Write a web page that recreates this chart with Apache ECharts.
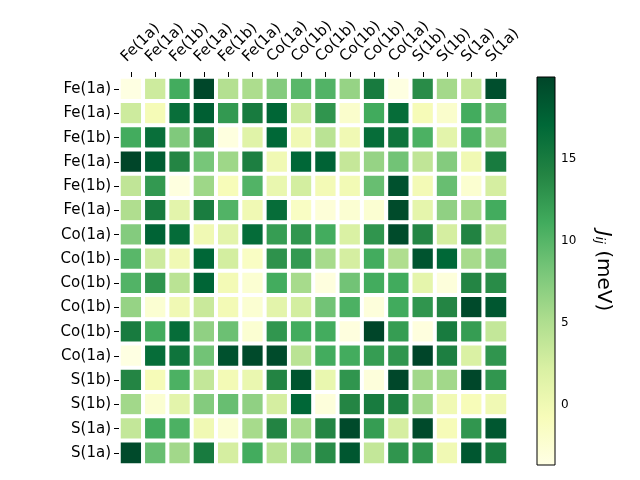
<!DOCTYPE html>
<html>
<head>
<meta charset="utf-8">
<script src="https://cdn.jsdelivr.net/npm/echarts@6/dist/echarts.min.js"></script>
<style>html,body{margin:0;padding:0;background:#fff;}#c{width:640px;height:480px;}</style>
</head>
<body>
<div id="c"></div>
<script>
var siteLabels = ['Fe(1a)','Fe(1a)','Fe(1b)','Fe(1a)','Fe(1b)','Fe(1a)','Co(1a)','Co(1b)','Co(1b)','Co(1b)','Co(1b)','Co(1a)','S(1b)','S(1b)','S(1a)','S(1a)'];
var jRows = [
  [-3.5, 3.0, 11.0, 19.8, 4.7, 5.2, 7.5, 9.8, 10.2, 6.5, 15.0, -3.4, 13.5, 5.7, 3.7, 19.2],
  [3.0, -0.5, 16.3, 17.8, 12.5, 15.0, 17.2, 3.0, 12.8, -2.0, 11.1, 16.5, -0.6, -2.0, 11.0, 9.0],
  [11.0, 16.3, 7.7, 14.0, -3.3, 1.5, 17.0, 0.0, 4.3, 0.0, 16.5, 15.8, 10.5, 1.2, 10.5, 5.8],
  [20.0, 18.0, 14.0, 8.2, 6.0, 14.6, 0.0, 17.1, 17.5, 3.6, 6.5, 8.5, 3.9, 7.5, 0.0, 15.0],
  [3.9, 12.5, -3.3, 6.0, -0.7, 10.2, 0.6, 2.6, -0.3, -0.2, 9.0, 19.0, -0.3, 9.0, -2.3, 2.5],
  [5.0, 15.0, 1.2, 14.8, 10.2, 0.0, 16.5, -1.5, -2.8, -2.4, -2.4, 19.5, 1.0, 6.8, 5.5, 11.0],
  [7.5, 17.5, 16.6, 0.0, 1.2, 16.6, 12.2, 12.7, 11.0, 2.1, 12.8, 19.5, 14.0, 2.5, 14.2, 4.3],
  [9.8, 3.0, 0.0, 17.1, 2.6, -1.5, 13.0, 12.5, 5.5, 2.5, 11.0, 5.0, 18.7, 17.0, 5.5, 7.5],
  [10.2, 12.8, 4.3, 17.3, -0.3, -2.4, 11.0, 5.5, -3.2, 8.5, 11.0, 11.1, 1.0, -3.0, 14.0, 13.5],
  [6.5, -2.4, 0.0, 3.3, -0.3, -2.4, 1.2, 2.6, 8.5, 10.5, -3.0, 11.1, 12.8, 14.0, 19.6, 18.5],
  [15.0, 11.0, 16.5, 6.8, 8.8, -2.4, 12.7, 11.0, 11.0, -3.2, 20.0, 12.2, -3.2, 15.0, 12.2, 3.7],
  [-3.5, 16.5, 15.8, 8.5, 19.0, 19.6, 19.5, 4.3, 11.0, 11.0, 12.2, 12.8, 20.0, 14.6, 2.1, 12.8],
  [14.0, -0.6, 10.5, 3.7, -0.3, 0.5, 14.1, 18.7, 0.6, 12.8, -3.0, 19.8, 5.8, 5.8, 19.8, 12.7],
  [5.8, -2.4, 1.2, 7.5, 9.0, 6.8, 2.5, 17.1, -3.0, 14.0, 15.0, 14.6, 5.8, 0.0, -0.7, 0.0],
  [3.7, 11.0, 10.5, 0.0, -2.4, 5.5, 14.1, 5.5, 14.0, 19.6, 12.2, 2.5, 19.6, -0.6, 12.7, 18.5],
  [19.6, 9.0, 5.8, 15.0, 2.5, 11.0, 4.3, 7.5, 13.5, 18.5, 3.7, 12.8, 12.8, 0.0, 18.5, 15.0]
];
var colorbarTicks = [0, 5, 10, 15];
var vMin = -3.7, vMax = 20.0;

var ylgn = ['#ffffe5','#f7fcb9','#d9f0a3','#addd8e','#78c679','#41ab5d','#238443','#006837','#004529'];

var heatData = [];
for (var r = 0; r < jRows.length; r++) {
  for (var c = 0; c < jRows[r].length; c++) {
    heatData.push([c, r, jRows[r][c]]);
  }
}

var chart = echarts.init(document.getElementById('c'), null, {renderer: 'canvas'});
var font = 'DejaVu Sans';
var stops = ylgn.slice().reverse().map(function (col, i, arr) {
  return {offset: i / (arr.length - 1), color: col};
});

chart.setOption({
  backgroundColor: '#ffffff',
  animation: false,
  textStyle: {fontFamily: font},
  grid: [
    {left: 119, top: 77, width: 389, height: 388},
    {left: 537, top: 77, width: 18, height: 388}
  ],
  xAxis: [
    {
      type: 'category', gridIndex: 0, data: siteLabels, position: 'top', z: 10,
      axisLine: {show: false},
      axisTick: {show: true, length: 5, alignWithLabel: true, lineStyle: {color: '#000', width: 1}},
      axisLabel: {rotate: -45, interval: 0, fontSize: 15, color: '#000', margin: 10, fontFamily: font,
                  align: 'left', verticalAlign: 'bottom', padding: [0, 0, 3, 0]},
      splitLine: {show: false}
    },
    {type: 'value', gridIndex: 1, show: false, min: 0, max: 1}
  ],
  yAxis: [
    {
      type: 'category', gridIndex: 0, data: siteLabels, inverse: true, z: 10,
      axisLine: {show: false},
      axisTick: {show: true, length: 5, alignWithLabel: true, lineStyle: {color: '#000', width: 1}},
      axisLabel: {interval: 0, fontSize: 15, color: '#000', margin: 8, fontFamily: font},
      splitLine: {show: false}
    },
    {
      type: 'value', gridIndex: 1, min: vMin, max: vMax, position: 'right',
      axisLine: {show: false},
      axisTick: {show: true, length: 4, lineStyle: {color: '#000'}, customValues: colorbarTicks},
      axisLabel: {fontSize: 12, color: '#000', margin: 6, customValues: colorbarTicks, fontFamily: font},
      splitLine: {show: false}
    }
  ],
  visualMap: {
    type: 'continuous', show: false, min: vMin, max: vMax, seriesIndex: 0,
    inRange: {color: ylgn}
  },
  series: [
    {
      type: 'heatmap', xAxisIndex: 0, yAxisIndex: 0, data: heatData, z: 1,
      itemStyle: {borderColor: '#ffffff', borderWidth: 4},
      emphasis: {disabled: true}
    }
  ],
  graphic: [
    {
      type: 'rect', shape: {x: 537, y: 77, width: 18, height: 388},
      style: {fill: new echarts.graphic.LinearGradient(0, 0, 0, 1, stops), stroke: '#000', lineWidth: 1},
      z: 10
    },
    {
      type: 'text', x: 603, y: 271, rotation: -Math.PI / 2,
      style: {
        text: '{i|J}{s|ij} (meV)',
        align: 'center', verticalAlign: 'middle',
        fontSize: 20, fontFamily: font, fill: '#000',
        rich: {
          i: {fontSize: 20, fontStyle: 'italic', fontFamily: font, fill: '#000'},
          s: {fontSize: 13, fontStyle: 'italic', fontFamily: font, fill: '#000', verticalAlign: 'bottom', padding: [8, 0, 0, 0]}
        }
      },
      z: 10
    }
  ]
});
</script>
</body>
</html>
